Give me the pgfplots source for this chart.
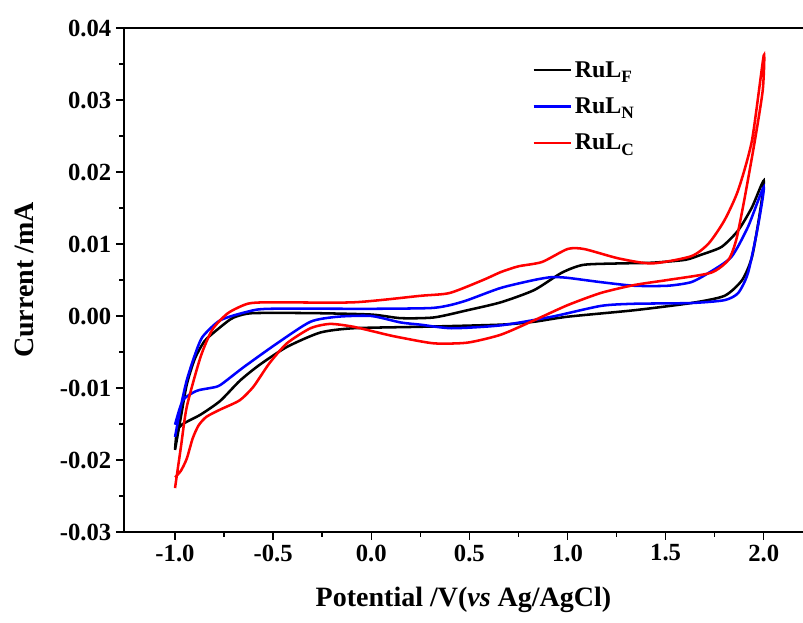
\documentclass[border=0pt]{standalone}
\usepackage{pgfplots}
\pgfplotsset{compat=1.18}
\usepackage{fontspec}
\setmainfont{Liberation Serif}
\newcommand{\lsub}[1]{\raisebox{-0.5ex}{\fontsize{13}{13}\selectfont #1}}
\begin{document}
\begin{tikzpicture}
\begin{axis}[
  scale only axis,
  width=509.25pt, height=378pt,
  xmin=-1.26, xmax=2.2, ymin=-0.03, ymax=0.04,
  scaled y ticks=false, scaled x ticks=false,
  separate axis lines,
  axis x line*=box, axis y line*=left,
  axis line style={line width=1.2pt},
  xtick pos=left, ytick pos=left,
  tick align=outside,
  major tick length=6pt, minor tick length=3.5pt,
  every tick/.style={line width=1.1pt, black},
  xtick={-1,-0.5,0,0.5,1,1.5,2},
  xticklabels={-1.0,-0.5,0.0,0.5,1.0,1.5,2.0},
  ytick={-0.03,-0.02,-0.01,0,0.01,0.02,0.03,0.04},
  yticklabels={-0.03,-0.02,-0.01,0.00,0.01,0.02,0.03,0.04},
  minor x tick num=1, minor y tick num=1,
  ticklabel style={font=\bfseries\fontsize{18.5}{18.5}\selectfont},
  xlabel={Potential /V(\textit{vs} Ag/AgCl)},
  ylabel={Current /mA},
  label style={font=\bfseries\fontsize{21}{21}\selectfont},
  xlabel style={at={(axis description cs:0.5,-0.135)}, anchor=center},
  ylabel style={at={(axis description cs:-0.146,0.5)}, anchor=center},
  legend cell align=left,
  legend style={draw=none, fill=none, at={(0.595,0.945)}, anchor=north west,
    font=\bfseries\fontsize{18}{18}\selectfont, row sep=10pt},
  legend image code/.code={\draw[#1, line width=1.9pt] (0pt,0pt) -- (28pt,0pt);},
  every axis plot/.append style={line width=1.9pt},
]
\addplot[black, smooth, tension=0.4] coordinates {
(-1.0,-0.0186) (-0.97,-0.0140) (-0.94,-0.0095) (-0.90,-0.0060) (-0.85,-0.0035)
(-0.785,-0.0019) (-0.72,-0.0005) (-0.68,0.0000) (-0.60,0.0004) (-0.3,0.0004)
(0.0,0.0002) (0.15,-0.0003) (0.32,-0.0002) (0.49,0.0008) (0.66,0.0019)
(0.83,0.0036) (0.97,0.0060) (1.08,0.0071) (1.26,0.0073) (1.43,0.0074)
(1.60,0.0078) (1.68,0.0085) (1.785,0.0096) (1.87,0.0119) (1.94,0.0151) (2.0,0.0188)
(1.98,0.0143) (1.94,0.0082) (1.89,0.0050) (1.80,0.0028) (1.63,0.0018)
(1.34,0.0008) (1.0,-0.0001) (0.83,-0.0008) (0.66,-0.0012) (0.25,-0.0015)
(-0.09,-0.0017) (-0.26,-0.0023) (-0.43,-0.0043) (-0.57,-0.0068)
(-0.67,-0.0090) (-0.77,-0.0118) (-0.87,-0.0137) (-0.96,-0.0150) (-0.99,-0.0160)
(-1.0,-0.0186)
};
\addlegendentry{RuL\lsub{F}}
\addplot[blue, smooth, tension=0.4] coordinates {
(-1.0,-0.0168) (-0.97,-0.0125) (-0.94,-0.0089) (-0.90,-0.0055) (-0.86,-0.0029)
(-0.77,-0.0006) (-0.63,0.0006) (-0.52,0.0010) (0.0,0.0010) (0.30,0.0011)
(0.40,0.0015) (0.49,0.0022) (0.66,0.0039) (0.83,0.0050) (0.92,0.0054) (1.0,0.0053)
(1.17,0.0047) (1.34,0.0042) (1.51,0.0042) (1.63,0.0047) (1.72,0.0060)
(1.835,0.0082) (1.92,0.0124) (2.0,0.0179)
(1.97,0.0124) (1.92,0.0060) (1.87,0.0032) (1.80,0.0022) (1.63,0.0018)
(1.34,0.0017) (1.17,0.0014) (0.92,-0.0001) (0.66,-0.0013) (0.41,-0.0017)
(0.25,-0.0012) (0.15,-0.0009) (0.0,0.0000) (-0.17,-0.0001) (-0.31,-0.0008)
(-0.48,-0.0038) (-0.65,-0.0071) (-0.77,-0.0096) (-0.82,-0.0100) (-0.89,-0.0104)
(-0.96,-0.0117) (-1.0,-0.0151)
};
\addlegendentry{RuL\lsub{N}}
\addplot[red, smooth, tension=0.4] coordinates {
(-1.0,-0.0239) (-0.97,-0.0182) (-0.94,-0.0126) (-0.87,-0.0057) (-0.81,-0.0019)
(-0.73,0.0004) (-0.63,0.0017) (-0.52,0.0019) (-0.09,0.0019) (0.25,0.0028)
(0.40,0.0032) (0.57,0.0050) (0.66,0.0061) (0.75,0.0069) (0.87,0.0075)
(1.0,0.0093) (1.085,0.0093) (1.26,0.0080) (1.43,0.0073) (1.63,0.0083)
(1.72,0.0101) (1.80,0.0133) (1.87,0.0175) (1.94,0.0244) (2.0,0.0362)
(1.995,0.0314) (1.955,0.0244) (1.90,0.0160) (1.86,0.0106) (1.82,0.0078)
(1.73,0.0060) (1.51,0.0050) (1.34,0.0043) (1.17,0.0032) (1.0,0.0015) (0.83,-0.0006)
(0.66,-0.0026) (0.49,-0.0037) (0.32,-0.0038) (0.15,-0.0030)
(0.08,-0.0026) (-0.09,-0.0015) (-0.21,-0.0011) (-0.31,-0.0017) (-0.43,-0.0038)
(-0.52,-0.0066) (-0.60,-0.0098) (-0.67,-0.0117) (-0.77,-0.0130) (-0.84,-0.0140)
(-0.88,-0.0152) (-0.91,-0.0170) (-0.94,-0.0198) (-0.97,-0.0215) (-1.0,-0.0224)
};
\addlegendentry{RuL\lsub{C}}
\coordinate (sw) at (rel axis cs:0,0);
\coordinate (ne) at (rel axis cs:1,1);
\end{axis}
\pgfresetboundingbox
\path ([shift={(-93pt,-68.25pt)}]sw) rectangle ([shift={(0pt,21pt)}]ne);
\end{tikzpicture}
\end{document}
